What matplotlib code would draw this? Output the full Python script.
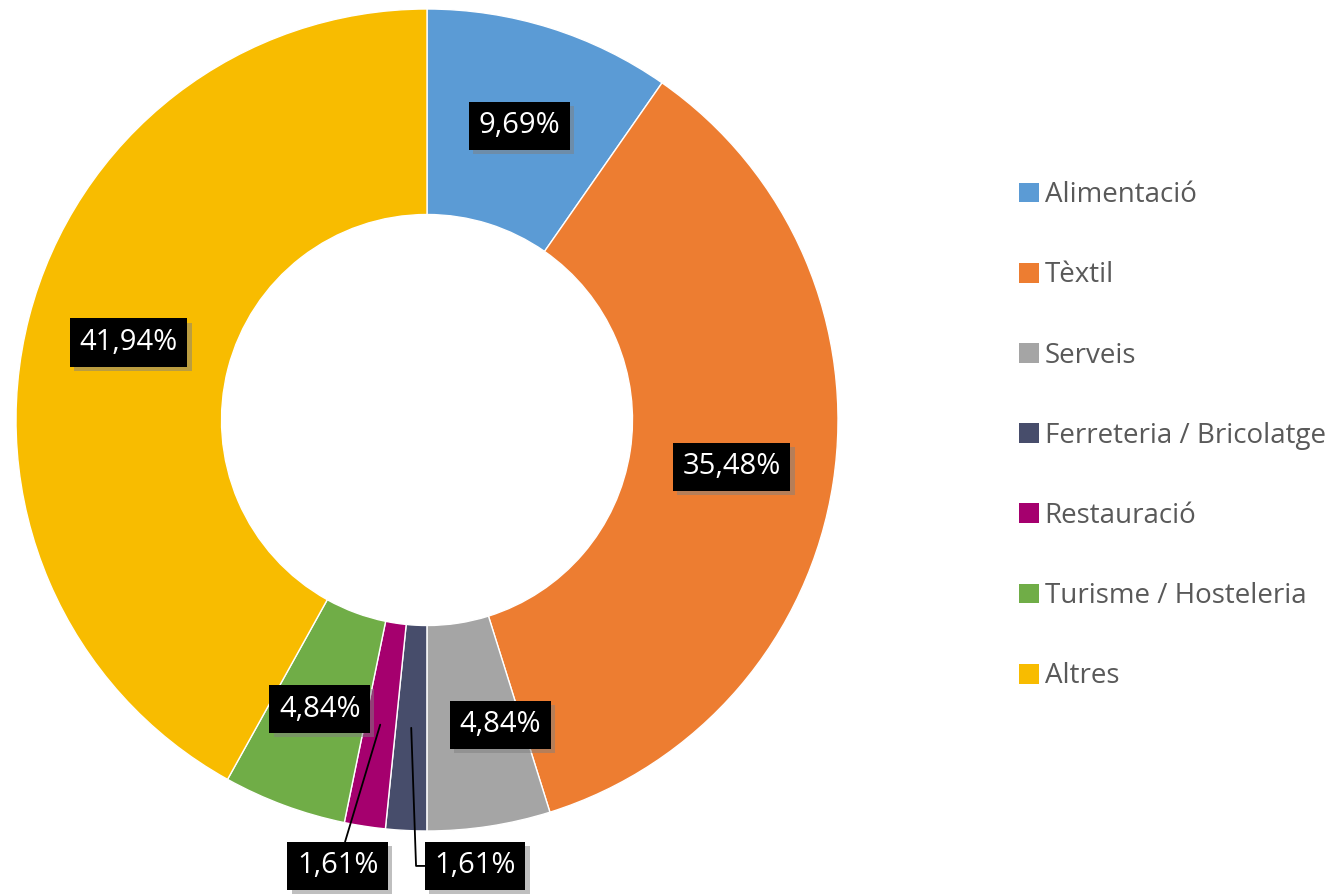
import numpy as np
import matplotlib.pyplot as plt
import matplotlib.patheffects as pe
from matplotlib.patches import Patch

# Sectors, clockwise from 12 o'clock
sectors = ["Alimentació", "Tèxtil", "Serveis", "Ferreteria / Bricolatge",
           "Restauració", "Turisme / Hosteleria", "Altres"]
shares = [9.69, 35.48, 4.84, 1.61, 1.61, 4.84, 41.94]
colors = ["#5b9bd5", "#ed7d31", "#a5a5a5", "#474d6b", "#a5006e", "#70ad47", "#f8bc00"]

plt.rcParams['font.family'] = ['Open Sans', 'DejaVu Sans']

fig = plt.figure(figsize=(13.4, 8.94), dpi=100)
cx, cy, R = 427, 420, 411
ax = fig.add_axes([(cx - R) / 1340, (894 - cy - R) / 894, 2 * R / 1340, 2 * R / 894])

wedges, _ = ax.pie(shares, colors=colors, startangle=90, counterclock=False,
                   radius=1.0, wedgeprops=dict(width=0.5, edgecolor="white", linewidth=1))
ax.set_xlim(-1, 1)
ax.set_ylim(-1, 1)
ax.set_aspect("equal")
ax.axis("off")

box = dict(boxstyle="square,pad=0.33", facecolor="black", edgecolor="none")
shadow = [pe.withSimplePatchShadow(offset=(3, -3), shadow_rgbFace="gray", alpha=0.5)]


def label(txt, xy, xytext, conn=None):
    if conn is not None:
        t = ax.annotate(txt, xy=xy, xytext=xytext, ha="center", va="center",
                        fontsize=21, color="white", bbox=box,
                        arrowprops=dict(arrowstyle="-", color="black", lw=1.3,
                                        shrinkA=0, shrinkB=0, connectionstyle=conn))
    else:
        t = ax.text(*xytext, txt, ha="center", va="center", fontsize=21,
                    color="white", bbox=box)
    t.get_bbox_patch().set_path_effects(shadow)


# offsets for crowded sectors near the bottom
nudge = {2: (0.065, 0.0)}
cum = np.cumsum([0] + shares[:-1])
for i, (v, c0) in enumerate(zip(shares, cum)):
    ang = np.deg2rad(90 - (c0 + v / 2) * 3.6)
    px, py = 0.75 * np.cos(ang), 0.75 * np.sin(ang)
    txt = f"{v:.2f}%".replace(".", ",")
    if i == 3:
        label(txt, (px, py), (0.117, -1.085), conn="angle,angleA=0,angleB=92,rad=0")
    elif i == 4:
        label(txt, (px, py), (-0.217, -1.085), conn="arc3,rad=0")
    else:
        dx, dy = nudge.get(i, (0, 0))
        label(txt, (px, py), (px + dx, py + dy))

handles = [Patch(facecolor=c, edgecolor="none") for c in colors]
leg = fig.legend(handles, sectors, loc="upper left", bbox_to_anchor=(1008 / 1340, 1 - 170 / 894),
                 frameon=False, fontsize=20, handlelength=0.72, handleheight=0.72,
                 handletextpad=0.2, labelspacing=1.88, borderaxespad=0)
for t in leg.get_texts():
    t.set_color("#595959")

fig.savefig("out.png", dpi=100)
